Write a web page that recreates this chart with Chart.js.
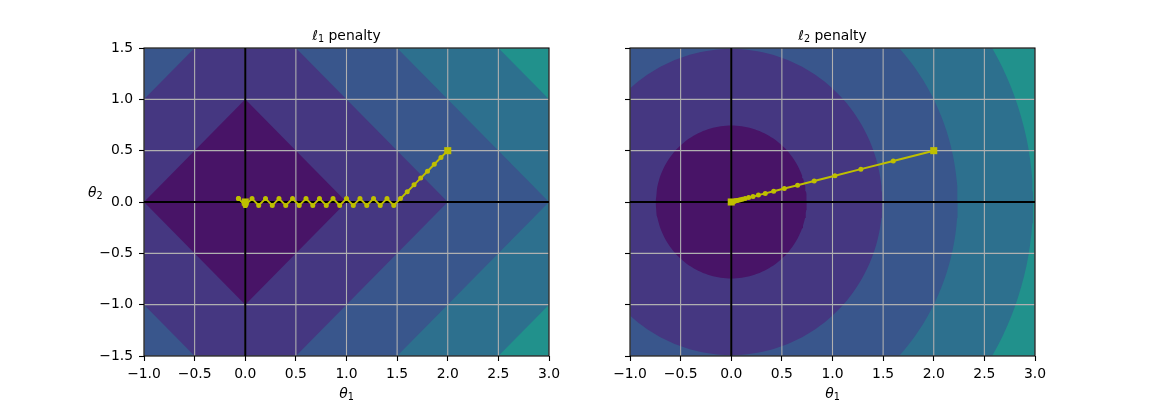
<!DOCTYPE html>
<html>
<head>
<meta charset="utf-8">
<script src="https://cdn.jsdelivr.net/npm/chart.js@4.4.1/dist/chart.umd.min.js"></script>
<style>
  html, body { margin: 0; padding: 0; background: #fff; }
  #wrap { position: relative; width: 1150px; height: 400px; }
  canvas { position: absolute; top: 0; }
</style>
</head>
<body>
<div id="wrap">
  <canvas id="l1Chart" width="575" height="400" style="left:0"></canvas>
  <canvas id="l2Chart" width="575" height="400" style="left:575px"></canvas>
</div>
<script>
// axes
const xRange = [-1, 3];
const yRange = [-1.5, 1.5];
const xTicks = [-1.0, -0.5, 0.0, 0.5, 1.0, 1.5, 2.0, 2.5, 3.0];
const yTicks = [-1.5, -1.0, -0.5, 0.0, 0.5, 1.0, 1.5];

// penalty values where the filled contour colour changes
const l1Levels = [1, 2, 3, 4];
const l2Levels = [0.745, 1.491, 2.236, 2.981];
const bandColors = ['#481467', '#453781', '#39568c', '#2d708e', '#21918c'];

// gradient descent on the l1 penalty only
const l1PathX = [2.000, 1.933, 1.867, 1.800, 1.733, 1.667, 1.600, 1.533, 1.467, 1.400,
                 1.333, 1.267, 1.200, 1.133, 1.067, 1.000, 0.933, 0.867, 0.800, 0.733,
                 0.667, 0.600, 0.533, 0.467, 0.400, 0.333, 0.267, 0.200, 0.133, 0.067,
                 0.000, -0.067, 0.000, -0.067, 0.000];
const l1PathY = [0.500, 0.433, 0.367, 0.300, 0.233, 0.167, 0.100, 0.033, -0.033, 0.033,
                 -0.033, 0.033, -0.033, 0.033, -0.033, 0.033, -0.033, 0.033, -0.033, 0.033,
                 -0.033, 0.033, -0.033, 0.033, -0.033, 0.033, -0.033, 0.033, -0.033, 0.033,
                 -0.033, 0.033, -0.033, 0.033, -0.033];

// gradient descent on the l2 penalty only
const l2PathX = [2.000, 1.600, 1.280, 1.024, 0.819, 0.655, 0.524, 0.419, 0.336, 0.268,
                 0.215, 0.172, 0.137, 0.110, 0.088, 0.070, 0.056, 0.045, 0.036, 0.029,
                 0.023, 0.018, 0.015, 0.012, 0.009, 0.008, 0.006, 0.005, 0.004, 0.003];
const l2PathY = [0.500, 0.400, 0.320, 0.256, 0.205, 0.164, 0.131, 0.105, 0.084, 0.067,
                 0.054, 0.043, 0.034, 0.027, 0.022, 0.018, 0.014, 0.011, 0.009, 0.007,
                 0.006, 0.005, 0.004, 0.003, 0.002, 0.002, 0.002, 0.001, 0.001, 0.001];

// square markers: start point and origin
const markerX = [2.0, 0.0];
const markerY = [0.5, 0.0];

const FONT = 'DejaVu Sans';
const pathColor = '#bfbf00';

const zip = (xs, ys) => xs.map((x, i) => ({x: x, y: ys[i]}));
const fmt = v => (v < 0 ? '\u2212' : '') + Math.abs(v).toFixed(1);

function diamond(k) {
	return [{x: k, y: 0}, {x: 0, y: k}, {x: -k, y: 0}, {x: 0, y: -k}];
}
function circle(r) {
	let pts = [];
	for (let a = 0; a < 360; a += 2) {
		let t = a * Math.PI / 180;
		pts.push({x: r * Math.cos(t), y: r * Math.sin(t)});
	}
	return pts;
}

function fillSet(pts, color, order) {
	return {
		data: pts, showLine: true, fill: 'shape',
		backgroundColor: color, borderColor: 'rgba(0,0,0,0)', borderWidth: 1,
		pointRadius: 0, order: order
	};
}
function lineSet(pts, color, width, order) {
	return {
		data: pts, showLine: true, fill: false,
		borderColor: color, borderWidth: width, pointRadius: 0, order: order
	};
}

function buildDatasets(levels, shape, pathX, pathY) {
	let sets = [];
	// background = outermost band
	sets.push(fillSet([
		{x: xRange[0], y: yRange[0]}, {x: xRange[1], y: yRange[0]},
		{x: xRange[1], y: yRange[1]}, {x: xRange[0], y: yRange[1]}
	], bandColors[levels.length], 30));
	for (let i = levels.length - 1; i >= 0; i--) {
		sets.push(fillSet(shape(levels[i]), bandColors[i], 20 + i));
	}
	// grid
	xTicks.forEach(t => sets.push(lineSet([{x: t, y: yRange[0]}, {x: t, y: yRange[1]}], '#b0b0b0', 1.1, 10)));
	yTicks.forEach(t => sets.push(lineSet([{x: xRange[0], y: t}, {x: xRange[1], y: t}], '#b0b0b0', 1.1, 10)));
	// axis lines
	sets.push(lineSet([{x: xRange[0], y: 0}, {x: xRange[1], y: 0}], '#000', 2, 5));
	sets.push(lineSet([{x: 0, y: yRange[0]}, {x: 0, y: yRange[1]}], '#000', 2, 5));
	// path
	sets.push({
		data: zip(pathX, pathY), showLine: true, fill: false,
		borderColor: pathColor, borderWidth: 2,
		pointRadius: 2.5, pointBackgroundColor: pathColor, pointBorderWidth: 0, order: 2
	});
	sets.push({
		data: zip(markerX, markerY), showLine: false,
		pointStyle: 'rect', pointRadius: 5, pointBackgroundColor: pathColor,
		pointBorderWidth: 0, order: 1
	});
	return sets;
}

// frame around the plot area
const framePlugin = {
	id: 'frame',
	afterDatasetsDraw(chart) {
		const {ctx, chartArea: a} = chart;
		ctx.save();
		ctx.strokeStyle = '#000';
		ctx.lineWidth = 1.1;
		ctx.strokeRect(a.left, a.top, a.right - a.left, a.bottom - a.top);
		ctx.restore();
	}
};

// symbol (italic) + small subscript + optional plain text
function mathText(ctx, x, y, base, sub, rest, center) {
	const big = '13.9px "' + FONT + '"';
	ctx.font = 'italic ' + big;
	const w1 = ctx.measureText(base).width;
	ctx.font = '9.7px "' + FONT + '"';
	const w2 = ctx.measureText(sub).width;
	ctx.font = big;
	const w3 = rest ? ctx.measureText(rest).width : 0;
	let left = center ? x - (w1 + w2 + w3) / 2 : x;
	ctx.fillStyle = '#000';
	ctx.textBaseline = 'alphabetic';
	ctx.textAlign = 'left';
	ctx.font = 'italic ' + big;
	ctx.fillText(base, left, y);
	ctx.font = '9.7px "' + FONT + '"';
	ctx.fillText(sub, left + w1, y + 2);
	if (rest) {
		ctx.font = big;
		ctx.fillText(rest, left + w1 + w2, y);
	}
}
const labelPlugin = {
	id: 'mathLabels',
	afterDraw(chart, args, opts) {
		const {ctx, chartArea: a} = chart;
		const cx = (a.left + a.right) / 2;
		ctx.save();
		mathText(ctx, cx, 39.5, '\u2113', opts.sub, ' penalty', true);
		mathText(ctx, cx, 398, '\u03b8', '1', '', true);
		if (opts.showY) mathText(ctx, 88, 197, '\u03b8', '2', '', false);
		ctx.restore();
	}
};

function makeChart(id, sub, datasets, axisWidth, padRight, showY) {
	return new Chart(document.getElementById(id), {
		type: 'scatter',
		data: { datasets: datasets },
		plugins: [framePlugin, labelPlugin],
		options: {
			responsive: false,
			animation: false,
			devicePixelRatio: 1,
			events: [],
			layout: { padding: { top: 48, right: padRight, bottom: 0, left: 0 } },
			plugins: {
				legend: { display: false },
				tooltip: { enabled: false },
				title: { display: false },
				mathLabels: { showY: showY, sub: sub }
			},
			scales: {
				x: {
					type: 'linear', min: xRange[0], max: xRange[1],
					afterBuildTicks: s => { s.ticks = xTicks.map(v => ({value: v})); },
					afterFit: s => { s.height = 44; },
					ticks: {
						autoSkip: false, maxRotation: 0, color: '#000', padding: 5,
						font: { family: FONT, size: 13.9 }, callback: v => fmt(v)
					},
					grid: { drawOnChartArea: false, drawTicks: true, tickLength: 5, tickColor: '#000', tickWidth: 1.1 },
					border: { display: false }
				},
				y: {
					type: 'linear', min: yRange[0], max: yRange[1],
					afterBuildTicks: s => { s.ticks = yTicks.map(v => ({value: v})); },
					afterFit: s => { s.width = axisWidth; },
					ticks: {
						autoSkip: false, color: '#000', padding: 6,
						font: { family: FONT, size: 13.9 },
						callback: v => showY ? fmt(v) : ''
					},
					grid: { drawOnChartArea: false, drawTicks: true, tickLength: 5, tickColor: '#000', tickWidth: 1.1 },
					border: { display: false }
				}
			}
		}
	});
}

const l1Chart = makeChart('l1Chart', '1',
	buildDatasets(l1Levels, diamond, l1PathX, l1PathY), 144, 26, true);
const l2Chart = makeChart('l2Chart', '2',
	buildDatasets(l2Levels, circle, l2PathX, l2PathY), 55, 115, false);
</script>
</body>
</html>
